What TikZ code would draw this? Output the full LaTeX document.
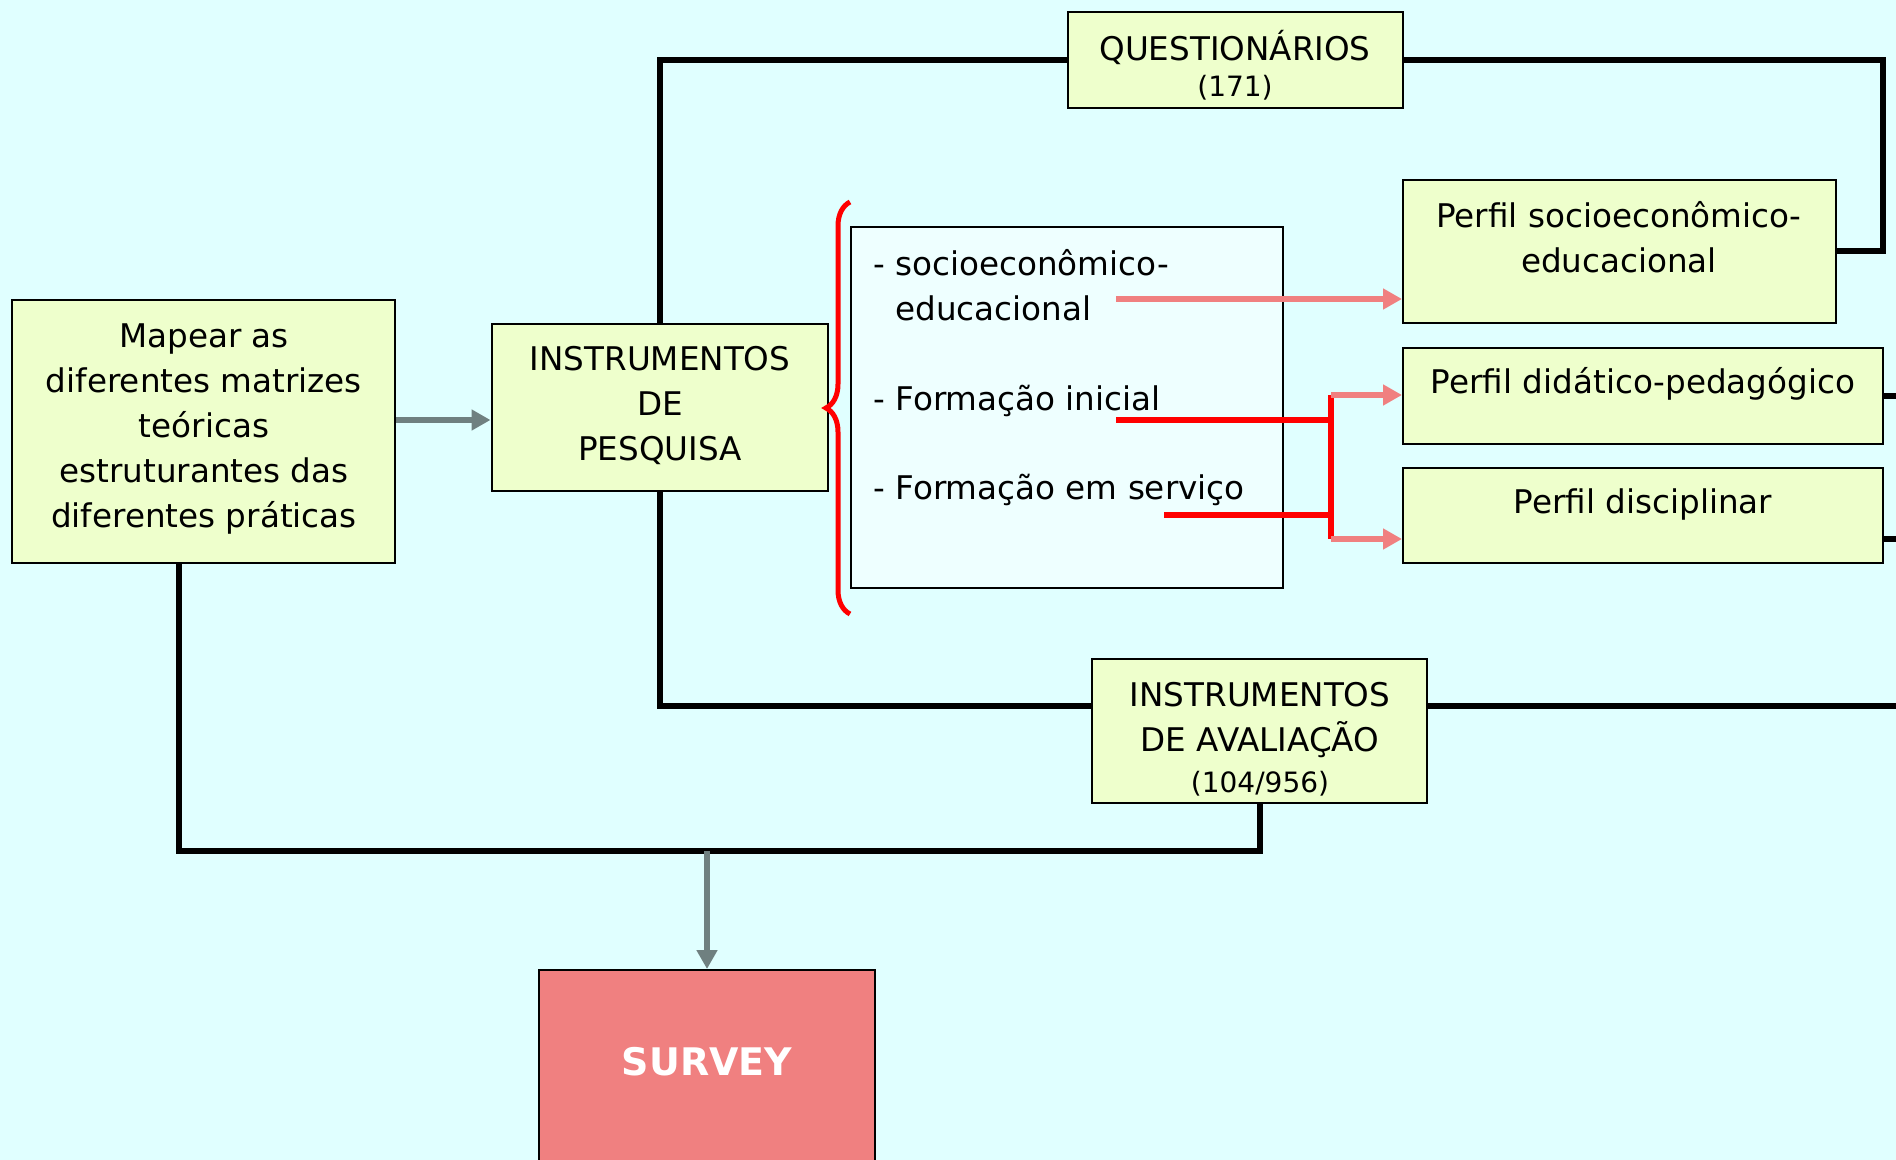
\documentclass[tikz,border=0pt]{standalone}
\usepackage{fontspec}
\setmainfont{DejaVu Sans}
\usepackage{xcolor}
\usetikzlibrary{arrows.meta,decorations.pathreplacing}

\definecolor{bgcyan}{HTML}{E0FFFF}
\definecolor{boxlime}{HTML}{EEFFCC}
\definecolor{itemfill}{HTML}{EEFFFF}
\definecolor{coral}{HTML}{F08080}
\definecolor{arrowgray}{HTML}{6F8080}

\tikzset{
  box/.style={draw=black, line width=1pt, fill=boxlime, rectangle, inner sep=0pt},
  txt/.style={align=center, inner sep=0pt, font=\fontsize{16.3pt}{22.5pt}\selectfont},
  numtxt/.style={align=center, inner sep=0pt, font=\fontsize{14pt}{17pt}\selectfont},
  rail/.style={draw=black, line width=3pt},
  grayarrow/.style={draw=arrowgray, line width=2.8pt, -{Triangle[length=9.5pt,width=10pt]}},
  pinkarrow/.style={draw=coral, line width=3pt, -{Triangle[length=9.5pt,width=10pt]}},
  redline/.style={draw=red, line width=3pt},
  bracered/.style={draw=red, line width=2.5pt, decorate, decoration={brace, amplitude=12pt}}
}

\begin{document}
\begin{tikzpicture}[x=0.5pt,y=-0.5pt]
% Page
\useasboundingbox (0,0) rectangle (1896,1160);
\fill[bgcyan] (0,0) rectangle (1896,1160);
% Boxes
\node[box, minimum width=191.5pt, minimum height=131.5pt] (mapear) at (203.5,431.5) {};
\node[box, minimum width=168pt, minimum height=83.5pt] (pesquisa) at (659.5,407.5) {};
\node[box, fill=itemfill, minimum width=216pt, minimum height=180.5pt] (itens) at (1067,407.5) {};
\node[box, minimum width=167.5pt, minimum height=48pt] (quest) at (1235.5,60) {};
\node[box, minimum width=216.5pt, minimum height=71.5pt] (psocio) at (1619.5,251.5) {};
\node[box, minimum width=240pt, minimum height=48pt] (pdidat) at (1643,396) {};
\node[box, minimum width=240pt, minimum height=47.5pt] (pdisc) at (1643,515.5) {};
\node[box, minimum width=167.5pt, minimum height=72pt] (aval) at (1259.5,731) {};
\node[box, fill=coral, minimum width=168pt, minimum height=100pt] (survey) at (707,1070) {};
% Texts
\node[txt] (mapear-t) at (204,429) {Mapear as\\diferentes matrizes\\teóricas\\estruturantes das\\diferentes práticas};
\node[txt] (pesquisa-t) at (660,406) {INSTRUMENTOS\\DE\\PESQUISA};
\node[txt] (quest-t) at (1235,47) {QUESTIONÁRIOS};
\node[numtxt] (quest-n) at (1235,88) {(171)};
\node[txt] (psocio-t) at (1619,237) {Perfil socioeconômico-\\educacional};
\node[txt] (pdidat-t) at (1643,384) {Perfil didático-pedagógico};
\node[txt] (pdisc-t) at (1643,505) {Perfil disciplinar};
\node[txt] (aval-t) at (1260,720) {INSTRUMENTOS\\DE AVALIAÇÃO};
\node[numtxt] (aval-n) at (1260,784) {(104/956)};
\node[txt, font=\bfseries\fontsize{19pt}{22pt}\selectfont, text=white] (survey-t) at (707,1062) {SURVEY};
% Items
\node[txt, align=left, anchor=west] (item1) at (873,285) {- socioeconômico-\\\phantom{- }educacional};
\node[txt, anchor=west] (item2) at (873,401) {- Formação inicial};
\node[txt, anchor=west] (item3) at (873,490) {- Formação em serviço};
% Brace
\draw[bracered] ([yshift=-12.5pt]itens.south west) -- ([yshift=12pt]itens.north west);
% Free ends
\coordinate (rtop) at (1883,60);
\coordinate (lowrail) at (0,706);
\coordinate (edge1) at (1900,396);
\coordinate (edge2) at (1900,539);
\coordinate (edge3) at (1900,706);
\coordinate (mapfoot) at ([xshift=-12.25pt]mapear.south);
\coordinate (bus) at (707,851);
\coordinate (feed) at (0,420);
% Black rails
\draw[rail] (pesquisa.north) |- (quest.west);
\draw[rail] (quest.east) -- (rtop) |- (psocio.east);
\draw[rail] (pesquisa.south) |- (aval.west |- lowrail);
\draw[rail] (aval.east |- lowrail) -- (edge3);
\draw[rail] (pdidat.east) -- (edge1);
\draw[rail] (pdisc.east |- edge2) -- (edge2);
\draw[rail] (mapfoot) |- (bus) -| (aval.south);
% Gray arrows
\draw[grayarrow] (mapear.east |- feed) -- (pesquisa.west |- feed);
\draw[grayarrow] (bus) -- (survey.north);
% Red links
\coordinate (s1) at (1116,299);
\coordinate (f1) at (1116,420);
\coordinate (f2) at (1164,515);
\coordinate (fa) at (1331,395);
\coordinate (fb) at (1331,539);
\draw[pinkarrow] (s1) -- (psocio.west |- s1);
\draw[redline] (f1) -- (f1 -| fa);
\draw[redline] (f2) -- (f2 -| fa);
\draw[redline] (fa) -- (fb);
\draw[pinkarrow] (fa) -- (pdidat.west |- fa);
\draw[pinkarrow] (fb) -- (pdisc.west |- fb);
\end{tikzpicture}
\end{document}
